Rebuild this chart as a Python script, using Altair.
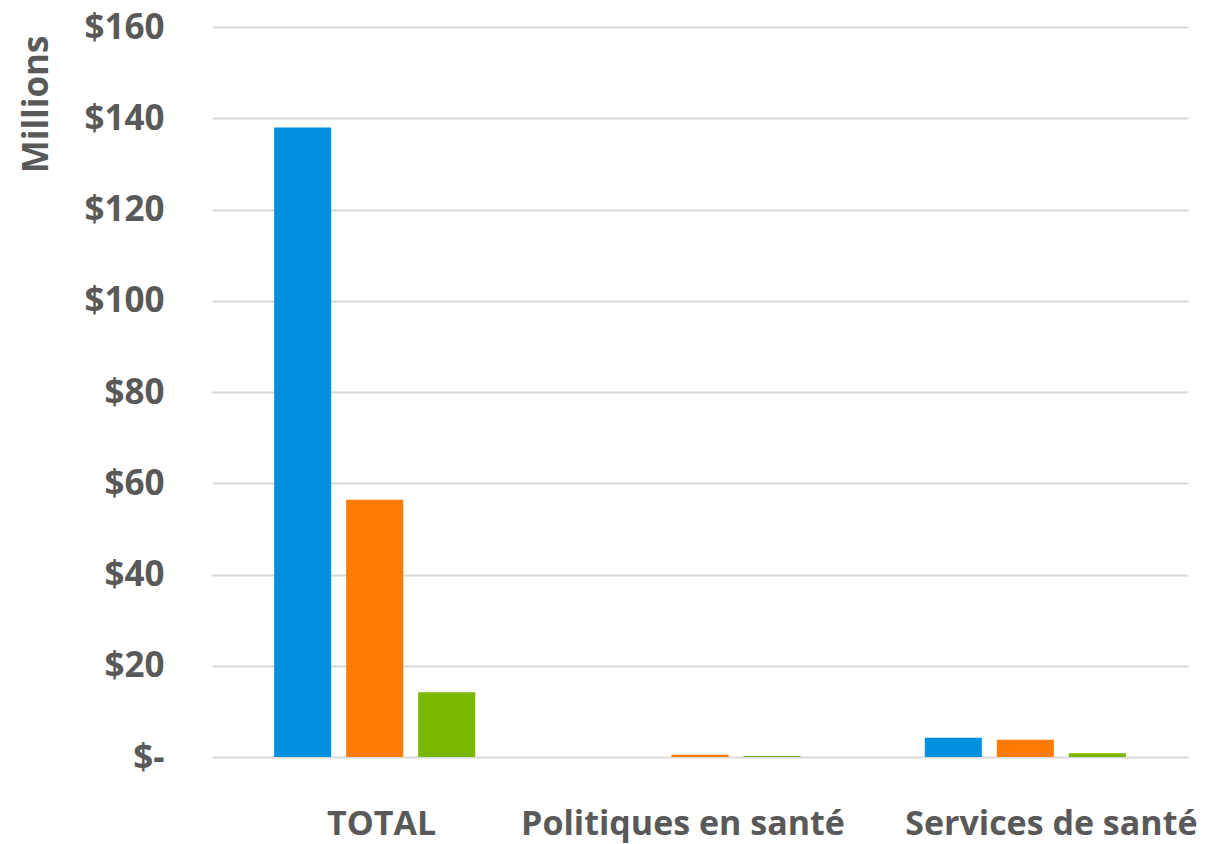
import altair as alt
import pandas as pd

categories = ["TOTAL", "Politiques en santé", "Services de santé"]
series = ["Série 1", "Série 2", "Série 3"]
values_s1 = [138.0, 0.0, 4.2]
values_s2 = [56.4, 0.5, 3.8]
values_s3 = [14.2, 0.2, 0.8]
colors = ["#0091DE", "#FF7C00", "#7AB800"]

rows = []
for i, c in enumerate(categories):
    for s, vals in zip(series, [values_s1, values_s2, values_s3]):
        rows.append({"cat": c, "serie": s, "val": vals[i]})
df = pd.DataFrame(rows)

FONT = "Open Sans"
GREY = "#595959"

label_offset = {
    "condition": [
        {"test": "datum.value == 'Politiques en santé'", "value": -17},
        {"test": "datum.value == 'Services de santé'", "value": 26},
    ],
    "value": 7,
}

chart = alt.Chart(df).mark_bar().encode(
    x=alt.X("cat:N", sort=categories, title=None,
            scale=alt.Scale(paddingInner=0.382, paddingOuter=0.191),
            axis=alt.Axis(labelAngle=0, labelFont=FONT, labelFontSize=34,
                          labelFontWeight="bold", labelColor=GREY, labelLimit=0,
                          labelOffset=label_offset, labelBaseline="alphabetic",
                          labelPadding=77, ticks=False, domain=False)),
    xOffset=alt.XOffset("serie:N", sort=series,
                        scale=alt.Scale(paddingInner=0.208, paddingOuter=0)),
    y=alt.Y("val:Q", title="Millions",
            scale=alt.Scale(domain=[0, 160], nice=False),
            axis=alt.Axis(values=[0, 20, 40, 60, 80, 100, 120, 140, 160],
                          labelExpr="datum.value == 0 ? '$-' : '$' + datum.value",
                          labelFont=FONT, labelFontSize=35, labelFontWeight="bold",
                          labelColor=GREY, labelPadding=48, ticks=False, domain=False,
                          gridColor="#D9D9D9", gridWidth=2,
                          titleFont=FONT, titleFontSize=35, titleFontWeight="bold",
                          titleColor=GREY, titleAngle=-90, titleX=-176, titleY=8,
                          titleAlign="right", titleBaseline="middle")),
    color=alt.Color("serie:N", sort=series,
                    scale=alt.Scale(domain=series, range=colors), legend=None),
).properties(
    width=976, height=730,
    autosize=alt.AutoSizeParams(type="none"),
    padding={"left": 204, "top": 19, "right": 30, "bottom": 87},
).configure(background="white").configure_view(stroke=None, strokeWidth=0)

chart.save("out.html", embed_options={"renderer": "svg", "actions": False})
